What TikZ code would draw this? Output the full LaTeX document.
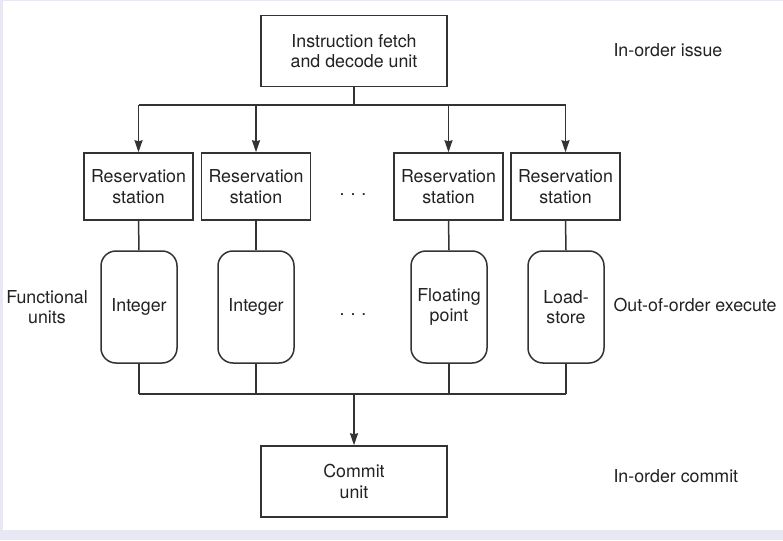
\documentclass[tikz,border=0pt]{standalone}
\usepackage{fontspec}
\setmainfont{TeX Gyre Heros}
\usepackage{tikz}
\usetikzlibrary{arrows.meta}
\usepackage{xcolor}
\definecolor{pagebg}{HTML}{E8E8F4}
\definecolor{linefg}{HTML}{333333}
\definecolor{textfg}{HTML}{222222}

\begin{document}
\begin{tikzpicture}[
  x=1pt, y=-1pt,
  every node/.style={font=\fontsize{17.8}{20.7}\selectfont, color=textfg},
  box/.style={draw=linefg, line width=1.5pt, inner sep=0pt,
              minimum width=186pt, minimum height=71pt, align=center},
  rsbox/.style={box, minimum width=109pt, minimum height=67pt},
  fubox/.style={box, rounded corners=15pt,
                minimum width=76pt, minimum height=112pt},
  wire/.style={draw=linefg, line width=1.5pt},
  arrow/.style={wire, -{Stealth[length=12pt, width=8pt, inset=1pt]}},
]
  % page
  \fill[pagebg] (0,0) rectangle (783,540);
  \fill[white] (3,1) rectangle (783,530);
  \useasboundingbox (0,0) rectangle (783,540);

  \node[box] (fetch) at (354,51) {Instruction fetch\\and decode unit};

  \node[rsbox] (rs1) at (138.5,186.5) {Reservation\\station};
  \node[rsbox] (rs2) at (256,186.5)   {Reservation\\station};
  \node[rsbox] (rs3) at (448.5,186.5) {Reservation\\station};
  \node[rsbox] (rs4) at (565.5,186.5) {Reservation\\station};

  \node[fubox] (fu1) at (139,307) {Integer};
  \node[fubox] (fu2) at (256,307) {Integer};
  \node[fubox] (fu3) at (449,307) {Floating\\point};
  \node[fubox] (fu4) at (566,307) {Load-\\store};

  \node[box] (commit) at (354,481.5) {Commit\\unit};

  \node[anchor=base] (rsdots) at (353,195) {.\hspace{6pt}.\hspace{6pt}.};
  \node[anchor=base] (fudots) at (353,315) {.\hspace{6pt}.\hspace{6pt}.};

  \node[anchor=west] (issue)   at (610,50)  {In-order issue};
  \node[anchor=west] (execute) at (610,305) {Out-of-order execute};
  \node[anchor=west] (commitlbl) at (610,476) {In-order commit};
  \node[align=center] (funits) at (47,307) {Functional\\units};

  \coordinate (split) at (354,105);
  \coordinate (merge) at (354,394);

  % issue
  \draw[wire] (fetch.south) -- (split);
  \draw[wire] (split -| rs1) -- (split -| rs4);
  \foreach \n in {1,...,4}
    \draw[arrow] (split -| rs\n) -- (rs\n.north);

  % execute
  \foreach \n in {1,...,4}{
    \draw[wire] (rs\n.south) -- (fu\n.north);
    \draw[wire] (fu\n.south) -- (merge -| fu\n);
  }
  \draw[wire] (merge -| fu1) -- (merge -| fu4);

  % commit
  \draw[arrow] (merge) -- (commit.north);
\end{tikzpicture}
\end{document}
